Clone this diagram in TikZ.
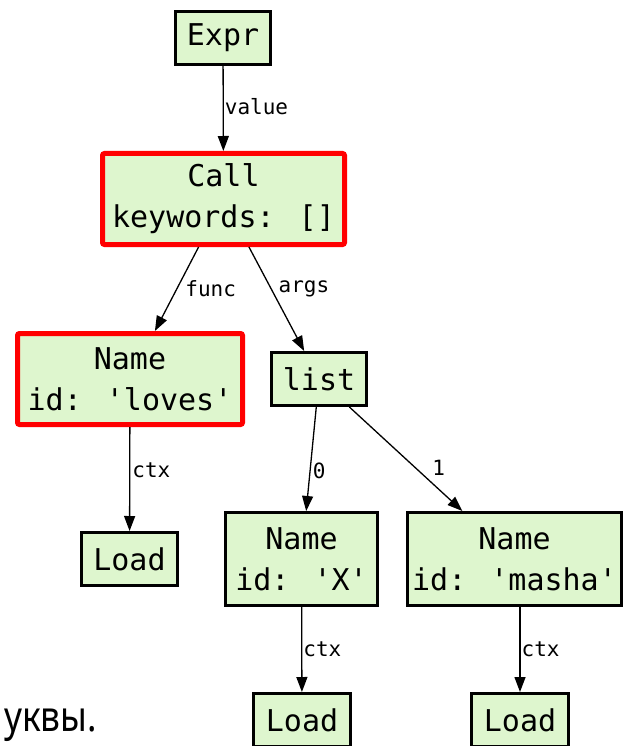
\documentclass[tikz,border=0pt]{standalone}
\usepackage{fontspec}
\setmainfont{Noto Sans}
\newfontfamily\codefont{DejaVu Sans Mono}
\usetikzlibrary{arrows.meta,calc}

\definecolor{nodefill}{RGB}{222,246,206}
\definecolor{hlred}{RGB}{255,0,0}

\begin{document}
\begin{tikzpicture}[x=1pt,y=-1pt,
  astnode/.style={draw=black, line width=3pt, fill=nodefill,
    font=\codefont\fontsize{30}{41}\selectfont, align=center,
    inner sep=0pt, text=black},
  hlnode/.style={astnode, draw=hlred, line width=5pt, rounded corners=2pt},
  edge/.style={-{Triangle[length=15pt,width=11pt]}, line width=1.3pt},
  elabel/.style={font=\codefont\fontsize{21}{24}\selectfont,
    inner sep=0pt, text=black}
]
\useasboundingbox (0,0) rectangle (625,746);
\clip (0,0) rectangle (625,746);

% AST nodes
\node[astnode, minimum width=95pt, minimum height=53pt] (expr) at (223,38) {Expr};
\node[hlnode, minimum width=242pt, minimum height=91pt] (call) at (223.5,199) {Call\\keywords: []};
\node[hlnode, minimum width=225pt, minimum height=91pt] (loves) at (130,379) {Name\\id: 'loves'};
\node[astnode, minimum width=95pt, minimum height=53pt] (list) at (319,379) {list};
\node[astnode, minimum width=96pt, minimum height=53pt] (load1) at (129.5,559) {Load};
\node[astnode, minimum width=152pt, minimum height=93pt] (namex) at (301.5,559) {Name\\id: 'X'};
\node[astnode, minimum width=214pt, minimum height=93pt] (masha) at (514.5,559) {Name\\id: 'masha'};
\node[astnode, minimum width=97pt, minimum height=53pt] (load2) at (302,720) {Load};
\node[astnode, minimum width=97pt, minimum height=53pt] (load3) at (520,720) {Load};

% fields
\draw[edge] (expr) -- (call)
  node[elabel, pos=.5, anchor=base west, xshift=1pt, yshift=-6.5pt] {value};
\draw[edge] (call) -- (loves)
  node[elabel, pos=.5, anchor=west, xshift=8pt] {func};
\draw[edge] (call) -- (list)
  node[elabel, pos=.4, anchor=west, xshift=7pt] {args};
\draw[edge] (loves) -- (load1)
  node[elabel, pos=.42, anchor=west, xshift=2pt] {ctx};
\draw[edge] (list) -- (namex)
  node[elabel, pos=.61, anchor=west, xshift=2pt] {0};
\draw[edge] (list) -- (masha)
  node[elabel, pos=.587, anchor=west, xshift=16pt] {1};
\draw[edge] (namex) -- (load2)
  node[elabel, pos=.5, anchor=west, xshift=1pt] {ctx};
\draw[edge] (masha.south -| load3.north) -- (load3)
  node[elabel, pos=.5, anchor=west, xshift=1pt] {ctx};

% trailing word of the surrounding text
\node[font=\fontsize{42}{48}\selectfont, anchor=base west, inner sep=0pt,
  xscale=0.84, transform shape] (tail) at (4,731) {уквы.};
\end{tikzpicture}
\end{document}
